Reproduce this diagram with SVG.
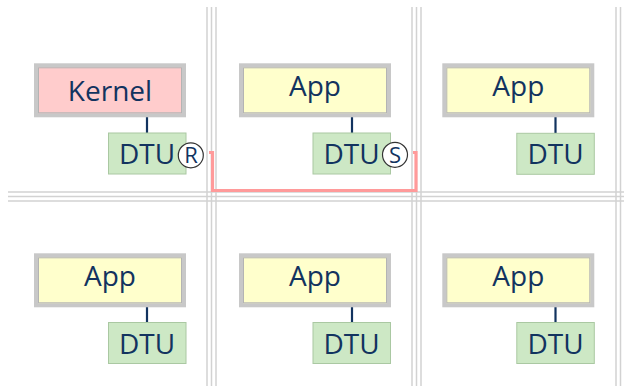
<svg xmlns="http://www.w3.org/2000/svg" width="624" height="386" viewBox="0 0 624 386">
<style>
.grid line{stroke:#d2d2d2;stroke-width:1.5}
.box{stroke:#c8c8c8;stroke-width:4}
.inner{fill:none;stroke:#b4b4b4;stroke-width:1}
.app{fill:#ffffcc}
.kernel{fill:#ffcccc}
.dtu{fill:#cde8c5;stroke:#aac8a2;stroke-width:1}
.lbl{font-family:"Open Sans","Noto Sans",sans-serif;font-size:28px;fill:#12335f;text-anchor:middle}
.port{fill:#fff;stroke:#333;stroke-width:1.2}
.plbl{font-family:"Open Sans","Noto Sans",sans-serif;font-size:22px;fill:#12335f;text-anchor:middle}
.link{stroke:#12335f;stroke-width:2.2}
.chan{fill:none;stroke:#ff9a9a;stroke-width:3.2}
</style>
<rect width="624" height="386" fill="#fff"/>
<g class="grid" id="grid">
<line x1="8" y1="192" x2="624" y2="192"/>
<line x1="8" y1="196.5" x2="624" y2="196.5"/>
<line x1="8" y1="201" x2="624" y2="201"/>
<line x1="207" y1="7" x2="207" y2="386"/>
<line x1="211.5" y1="7" x2="211.5" y2="386"/>
<line x1="216" y1="7" x2="216" y2="386"/>
<line x1="412" y1="7" x2="412" y2="386"/>
<line x1="416.5" y1="7" x2="416.5" y2="386"/>
<line x1="421" y1="7" x2="421" y2="386"/>
<line x1="616" y1="7" x2="616" y2="386"/>
<line x1="620.5" y1="7" x2="620.5" y2="386"/>
</g>
<g id="connectors">
<line class="link" x1="147" y1="117" x2="147" y2="133"/>
<line class="link" x1="352" y1="117" x2="352" y2="133"/>
<line class="link" x1="555.5" y1="117" x2="555.5" y2="133"/>
<line class="link" x1="147" y1="307" x2="147" y2="323"/>
<line class="link" x1="352" y1="307" x2="352" y2="323"/>
<line class="link" x1="555.5" y1="307" x2="555.5" y2="323"/>
<path class="chan" d="M209 152.5H212.5V190.5H416V152.5H413"/>
</g>
<g id="kernel">
<rect class="box kernel" x="36" y="65.3" width="148" height="50"/>
<rect class="inner" x="38.5" y="67.8" width="143" height="45"/>
<text class="lbl" x="110" y="101">Kernel</text>
</g>
<g id="dtu-kernel">
<rect class="dtu" x="108.5" y="133" width="77.5" height="41"/>
<text class="lbl" x="147" y="164">DTU</text>
<circle class="port" cx="190.8" cy="155.3" r="12.5"/>
<text class="plbl" x="191" y="163.3">R</text>
</g>
<g id="app1">
<rect class="box app" x="241" y="65.3" width="148" height="50"/>
<rect class="inner" x="243.5" y="67.8" width="143" height="45"/>
<text class="lbl" x="315" y="96">App</text>
</g>
<g id="dtu-app1">
<rect class="dtu" x="313" y="133" width="77.5" height="41"/>
<text class="lbl" x="351.5" y="164">DTU</text>
<circle class="port" cx="395" cy="154.8" r="12.5"/>
<text class="plbl" x="395" y="162.8">S</text>
</g>
<g id="app2">
<rect class="box app" x="444.3" y="65.3" width="148" height="50"/>
<rect class="inner" x="446.8" y="67.8" width="143" height="45"/>
<text class="lbl" x="518.3" y="96">App</text>
</g>
<g id="dtu-app2">
<rect class="dtu" x="516.8" y="133.3" width="77.5" height="41"/>
<text class="lbl" x="555.5" y="164">DTU</text>
</g>
<g id="app3">
<rect class="box app" x="36" y="255.3" width="148" height="50"/>
<rect class="inner" x="38.5" y="257.8" width="143" height="45"/>
<text class="lbl" x="110" y="286">App</text>
</g>
<g id="dtu-app3">
<rect class="dtu" x="108.5" y="322.5" width="77.5" height="41"/>
<text class="lbl" x="147" y="353.5">DTU</text>
</g>
<g id="app4">
<rect class="box app" x="241" y="255.3" width="148" height="50"/>
<rect class="inner" x="243.5" y="257.8" width="143" height="45"/>
<text class="lbl" x="315" y="286">App</text>
</g>
<g id="dtu-app4">
<rect class="dtu" x="313" y="322.5" width="77.5" height="41"/>
<text class="lbl" x="351.5" y="353.5">DTU</text>
</g>
<g id="app5">
<rect class="box app" x="444.3" y="255.3" width="148" height="50"/>
<rect class="inner" x="446.8" y="257.8" width="143" height="45"/>
<text class="lbl" x="518.3" y="286">App</text>
</g>
<g id="dtu-app5">
<rect class="dtu" x="516.8" y="322.5" width="77.5" height="41"/>
<text class="lbl" x="555.5" y="353.5">DTU</text>
</g>
</svg>
